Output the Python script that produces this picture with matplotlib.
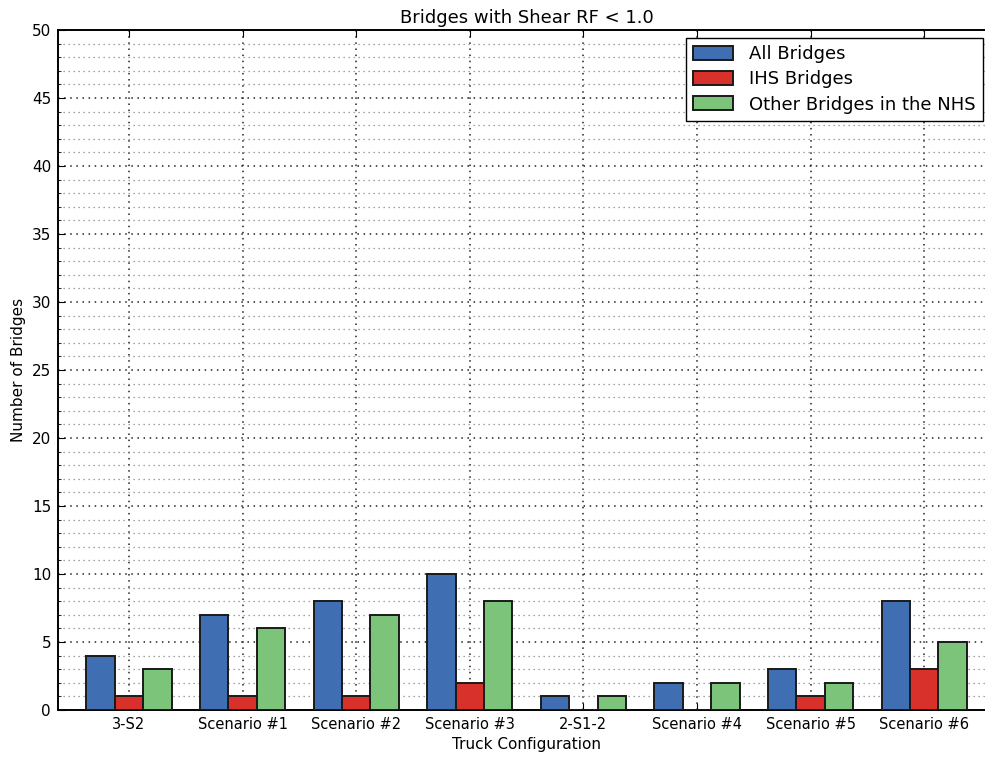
import matplotlib
matplotlib.use('Agg')
import matplotlib.pyplot as plt
import numpy as np
from matplotlib.ticker import MultipleLocator

# data
configs = ['3-S2', 'Scenario #1', 'Scenario #2', 'Scenario #3',
           '2-S1-2', 'Scenario #4', 'Scenario #5', 'Scenario #6']
all_bridges = [4, 7, 8, 10, 1, 2, 3, 8]
ihs_bridges = [1, 1, 1, 2, 0, 0, 1, 3]
other_nhs = [3, 6, 7, 8, 1, 2, 2, 5]

series = [
    ('All Bridges', all_bridges, '#3f6eb3'),
    ('IHS Bridges', ihs_bridges, '#d8302a'),
    ('Other Bridges in the NHS', other_nhs, '#7cc47a'),
]

plt.rcParams['font.family'] = 'DejaVu Sans'

fig = plt.figure(figsize=(9.85, 7.57), dpi=100)
ax = fig.add_axes([0.0589, 0.0621, 0.952, 0.8983])

x = np.arange(len(configs))
w = 0.25
for i, (label, vals, col) in enumerate(series):
    ax.bar(x + (i - 1) * w, vals, width=w, color=col, edgecolor='#1a1a1a',
           linewidth=1.4, label=label, zorder=3)

ax.set_xticks(x)
ax.set_xticklabels(configs, fontsize=10.5)
ax.set_xlim(-0.625, 7.63)
ax.set_ylim(0, 50)
ax.yaxis.set_major_locator(MultipleLocator(5))
ax.yaxis.set_minor_locator(MultipleLocator(1))
ax.tick_params(axis='y', labelsize=11)
ax.tick_params(which='both', direction='in', top=True, right=True)
ax.tick_params(which='major', length=5, pad=5)
ax.tick_params(which='minor', length=2.5)

ax.grid(which='major', linestyle=(0, (1, 3)), color='#222222', linewidth=1.1, zorder=0)
ax.grid(which='minor', axis='y', linestyle=(0, (1, 3)), color='#888888',
        linewidth=0.9, zorder=0)
ax.set_axisbelow(True)

for sp in ax.spines.values():
    sp.set_linewidth(1.4)

ax.set_title('Bridges with Shear RF < 1.0', fontsize=13, pad=5)
ax.set_xlabel('Truck Configuration', fontsize=11, labelpad=4)
ax.set_ylabel('Number of Bridges', fontsize=11, labelpad=4)

leg = ax.legend(loc='upper right', bbox_to_anchor=(0.998, 0.950),
                bbox_transform=fig.transFigure, fontsize=13, fancybox=False,
                edgecolor='black', framealpha=1, borderpad=0.4,
                handlelength=2.2, handleheight=0.85, labelspacing=0.4,
                handletextpad=0.9, borderaxespad=0)
leg.get_frame().set_linewidth(1.0)

fig.savefig('out.png', dpi=100)
